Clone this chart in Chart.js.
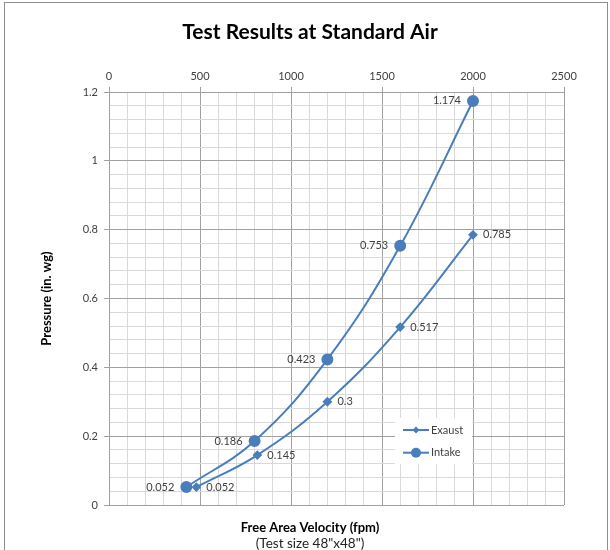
<!DOCTYPE html>
<html><head><meta charset="utf-8">
<script src="https://cdn.jsdelivr.net/npm/chart.js@4"></script>
<style>
html,body{margin:0;padding:0;background:#fff;}
#wrap{position:relative;width:610px;height:550px;overflow:hidden;}
#frame{position:absolute;left:4px;top:2px;width:602px;height:600px;border:1px solid #8c8c8c;pointer-events:none;}
</style></head><body>
<div id="wrap"><canvas id="c" width="610" height="550"></canvas><div id="frame"></div></div>
<script>
const seriesNames = ['Exaust', 'Intake'];
const exaustX = [480, 815, 1200, 1600, 2000];
const exaustY = [0.052, 0.145, 0.3, 0.517, 0.785];
const intakeX = [425, 800, 1200, 1600, 2000];
const intakeY = [0.052, 0.186, 0.423, 0.753, 1.174];
const xTickLabels = [0, 500, 1000, 1500, 2000, 2500];
const yTickLabels = [0, 0.2, 0.4, 0.6, 0.8, 1, 1.2];

const FONT = 'Lato, "Open Sans", sans-serif';
const BLUE = '#4a7ebb';
const MAJOR = '#a0a0a0';
const MINOR = '#d9d9d9';
const isMajor = (v, list) => list.some(t => Math.abs(t - v) < 1e-6);
const pts = (xs, ys) => xs.map((x, i) => ({x: x, y: ys[i]}));

const dataLabels = {
  id: 'dataLabels',
  afterDatasetsDraw(chart) {
    const ctx = chart.ctx;
    ctx.save();
    ctx.font = '11px ' + FONT;
    ctx.fillStyle = '#404040';
    ctx.textBaseline = 'middle';
    chart.data.datasets.forEach((ds, i) => {
      const meta = chart.getDatasetMeta(i);
      meta.data.forEach((el, j) => {
        const left = ds.labelSide === 'left';
        ctx.textAlign = left ? 'right' : 'left';
        ctx.fillText(String(ds.data[j].y), el.x + (left ? -12 : 10), el.y);
      });
    });
    ctx.restore();
  }
};

// center the bottom axis title on the whole picture, as in the reference
const centerAxisTitle = {
  id: 'centerAxisTitle',
  afterLayout(chart) {
    const s = chart.scales.x2;
    s.left = 10; s.right = chart.width;
  }
};

function marker(ctx, style, r, x, y) {
  ctx.beginPath();
  if (style === 'circle') {
    ctx.arc(x, y, r, 0, Math.PI * 2);
  } else {
    ctx.moveTo(x, y - r); ctx.lineTo(x + r, y); ctx.lineTo(x, y + r); ctx.lineTo(x - r, y); ctx.closePath();
  }
  ctx.fill();
}

const boxLegend = {
  id: 'boxLegend',
  afterDraw(chart) {
    const ctx = chart.ctx;
    ctx.save();
    ctx.fillStyle = '#fff';
    ctx.fillRect(395, 418, 77, 46);
    chart.data.datasets.forEach((ds, i) => {
      const y = 430 + i * 22.7;
      ctx.strokeStyle = BLUE; ctx.lineWidth = 2;
      ctx.beginPath(); ctx.moveTo(403, y); ctx.lineTo(429, y); ctx.stroke();
      ctx.fillStyle = BLUE;
      marker(ctx, ds.pointStyle, ds.pointStyle === 'circle' ? 5 : 3.5, 416, y);
      ctx.fillStyle = '#404040';
      ctx.font = '11px ' + FONT;
      ctx.textAlign = 'left'; ctx.textBaseline = 'middle';
      ctx.fillText(ds.label, 431, y);
    });
    ctx.restore();
  }
};

new Chart(document.getElementById('c'), {
  type: 'scatter',
  data: {
    datasets: [
      {label: seriesNames[0], data: pts(exaustX, exaustY), showLine: true, tension: 0.4,
       borderColor: BLUE, backgroundColor: BLUE, borderWidth: 2,
       pointStyle: 'rectRot', pointRadius: 3.5, pointHoverRadius: 3.5, labelSide: 'right'},
      {label: seriesNames[1], data: pts(intakeX, intakeY), showLine: true, tension: 0.4,
       borderColor: BLUE, backgroundColor: BLUE, borderWidth: 2,
       pointStyle: 'circle', pointRadius: 5, pointHoverRadius: 5, labelSide: 'left'}
    ]
  },
  options: {
    responsive: false,
    animation: false,
    devicePixelRatio: 1,
    layout: {padding: {left: 10, right: 0, top: 0, bottom: 0}},
    plugins: {
      legend: {display: false},
      tooltip: {enabled: false},
      title: {display: true, text: 'Test Results at Standard Air', color: '#000',
              font: {family: FONT, size: 21, weight: 'bold'}, padding: {top: 20, bottom: 8.8}},
      subtitle: {display: true, position: 'bottom', text: '(Test size 48"x48")', color: '#222',
              font: {family: FONT, size: 13.5, lineHeight: 0.9}, padding: {top: 0, bottom: 0}}
    },
    scales: {
      x: {
        type: 'linear', position: 'top', min: 0, max: 2500,
        afterFit(s) { s.height = 38; },
        ticks: {stepSize: 100, autoSkip: false, maxRotation: 0, padding: 4, color: '#404040',
                font: {family: FONT, size: 11},
                callback: v => isMajor(v, xTickLabels) ? String(v) : ''},
        grid: {color: c => isMajor(c.tick.value, xTickLabels) ? MAJOR : MINOR,
               tickColor: c => isMajor(c.tick.value, xTickLabels) ? MAJOR : 'rgba(0,0,0,0)',
               tickLength: 5, lineWidth: 1},
        border: {color: MAJOR, width: 1}
      },
      x2: {
        type: 'linear', position: 'bottom', min: 0, max: 2500,
        afterFit(s) { s.height = 32.85; },
        ticks: {display: false}, grid: {display: false}, border: {display: false},
        title: {display: true, text: 'Free Area Velocity (fpm)', color: '#000',
                font: {family: FONT, size: 13, weight: 'bold'}, padding: {top: 0, bottom: 2.5}}
      },
      y: {
        type: 'linear', position: 'left', min: 0, max: 1.2,
        afterFit(s) { s.width = 99; },
        ticks: {stepSize: 0.04, autoSkip: false, padding: 6, color: '#404040',
                font: {family: FONT, size: 11},
                callback: v => isMajor(v, yTickLabels) ? String(Math.round(v * 10) / 10) : ''},
        grid: {color: c => isMajor(c.tick.value, yTickLabels) ? MAJOR : MINOR,
               tickColor: c => isMajor(c.tick.value, yTickLabels) ? MAJOR : 'rgba(0,0,0,0)',
               tickLength: 5, lineWidth: 1},
        border: {color: MAJOR, width: 1},
        title: {display: true, text: 'Pressure (in. wg)', color: '#000',
                font: {family: FONT, size: 13, weight: 'bold'}, padding: {top: 29, bottom: 0}}
      },
      y2: {
        type: 'linear', position: 'right', min: 0, max: 1.2,
        afterFit(s) { s.width = 46; },
        ticks: {display: false}, grid: {display: false}, border: {display: false}
      }
    }
  },
  plugins: [dataLabels, boxLegend, centerAxisTitle]
});
</script>
</body></html>
